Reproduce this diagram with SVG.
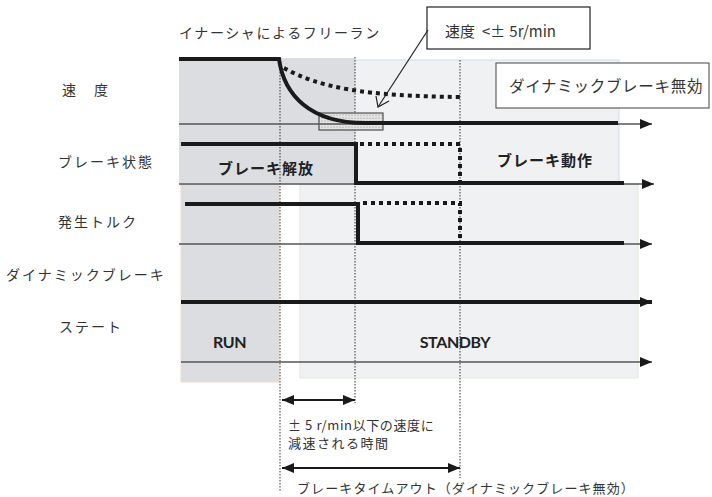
<svg xmlns="http://www.w3.org/2000/svg" width="712" height="497" viewBox="0 0 712 497">
<style>
.t{font-family:"Noto Sans CJK JP","Noto Sans",sans-serif;fill:#333;}
.lbl{font-size:14px;letter-spacing:2px;}
.b{font-weight:bold;fill:#222;}
.en{font-family:Lato,"Noto Sans",sans-serif;font-weight:bold;fill:#222;}
.thick{stroke:#1a1a1a;stroke-width:4;fill:none;}
.thin{stroke:#555;stroke-width:1.5;fill:none;}
.dot{stroke:#1a1a1a;stroke-width:4;fill:none;stroke-dasharray:4 4;}
.guide{stroke:#333;stroke-width:1;fill:none;stroke-dasharray:1.5 1.5;}
</style>
<defs>
<marker id="ah" markerWidth="12" markerHeight="10" refX="12" refY="5" orient="auto" markerUnits="userSpaceOnUse">
<path d="M0,0 L12,5 L0,10 Z" fill="#1a1a1a"/>
</marker>
<marker id="ahs" markerWidth="12" markerHeight="10" refX="0" refY="5" orient="auto" markerUnits="userSpaceOnUse">
<path d="M12,0 L0,5 L12,10 Z" fill="#1a1a1a"/>
</marker>
<pattern id="dots" width="3" height="3" patternUnits="userSpaceOnUse">
<rect width="3" height="3" fill="#e4e4e4"/>
<circle cx="1" cy="1" r="0.6" fill="#888"/>
</pattern>
</defs>

<g id="backgrounds">
<rect x="280" y="60" width="339" height="123" fill="#f0f1f3" stroke="#cfdcee" stroke-width="1"/>
<rect x="179" y="58" width="176" height="125" fill="#dcdde0"/>
<rect x="300" y="184" width="338" height="194" fill="#f0f1f3" stroke="#e3e9da" stroke-width="1"/>
<rect x="181" y="184" width="98" height="198" fill="#dcdde0" stroke="#f2dccd" stroke-width="1"/>
</g>

<g id="guides">
<line class="guide" x1="280" y1="57" x2="280" y2="492"/>
<line class="guide" x1="355" y1="57" x2="355" y2="403"/>
<line class="guide" x1="460" y1="60" x2="460" y2="478"/>
</g>

<g id="row-labels">
<text class="t lbl" x="62" y="95">速　度</text>
<text class="t lbl" x="58" y="167">ブレーキ状態</text>
<text class="t lbl" x="58" y="227">発生トルク</text>
<text class="t lbl" x="6" y="280">ダイナミックブレーキ</text>
<text class="t lbl" x="59" y="332">ステート</text>
<text class="t" x="179" y="38" font-size="14" letter-spacing="1.6">イナーシャによるフリーラン</text>
</g>

<g id="speed">
<rect x="319" y="113" width="64" height="17" fill="url(#dots)" stroke="#333" stroke-width="1"/>
<line class="thin" x1="179" y1="124" x2="652" y2="124" marker-end="url(#ah)"/>
<path class="dot" d="M284,68 C320,88 365,96 460,97"/>
<path class="thick" d="M179,59 H279 C284,95 310,123 365,123 H618"/>
</g>

<g id="brake">
<line class="thin" x1="179" y1="184" x2="654" y2="184" marker-end="url(#ah)"/>
<path class="dot" d="M360,144 H460 V182"/>
<path class="thick" d="M181,144 H356 V183 H624"/>
<text class="t b" x="218" y="174" font-size="15" letter-spacing="1">ブレーキ解放</text>
<text class="t b" x="497" y="166" font-size="15" letter-spacing="1">ブレーキ動作</text>
</g>

<g id="torque">
<line class="thin" x1="179" y1="244" x2="652" y2="244" marker-end="url(#ah)"/>
<path class="dot" d="M363,203 H460 V242"/>
<path class="thick" d="M185,204 H358 V243 H624"/>
</g>

<g id="dynamic-brake">
<line class="thick" x1="181" y1="302" x2="652" y2="302" marker-end="url(#ah)"/>
</g>

<g id="state">
<line class="thin" x1="181" y1="362" x2="652" y2="362" marker-end="url(#ah)"/>
<text class="en" x="229.5" y="348" font-size="16" text-anchor="middle" letter-spacing="-0.4">RUN</text>
<text class="en" x="455" y="348" font-size="16" text-anchor="middle" letter-spacing="-0.4">STANDBY</text>
</g>

<g id="callout-speed">
<rect x="427" y="7" width="163" height="42" fill="#fff" stroke="#222" stroke-width="1.2"/>
<text class="t" x="445" y="37" font-size="15">速度<tspan dx="7">&lt;±</tspan><tspan dx="4">5r/min</tspan></text>
</g>

<g id="callout-db">
<rect x="496" y="63" width="213" height="45" fill="#fff" stroke="#444" stroke-width="1"/>
<text class="t" x="509" y="92" font-size="15.5" letter-spacing="0.7">ダイナミックブレーキ無効</text>
</g>

<g id="connectors">
<line x1="428" y1="30" x2="378" y2="107" stroke="#222" stroke-width="1.2"/>
<path d="M376,96 L378,107 L389,101" fill="none" stroke="#222" stroke-width="1.2"/>
<line x1="282" y1="400" x2="355" y2="400" stroke="#1a1a1a" stroke-width="2" marker-start="url(#ahs)" marker-end="url(#ah)"/>
<line x1="282" y1="468" x2="460" y2="468" stroke="#1a1a1a" stroke-width="2" marker-start="url(#ahs)" marker-end="url(#ah)"/>
</g>

<g id="dimension-labels">
<text class="t" x="288" y="430" font-size="13" letter-spacing="0.6">± 5 r/min以下の速度に</text>
<text class="t" x="288" y="448" font-size="13" letter-spacing="1.5">減速される時間</text>
<text class="t" x="297" y="493" font-size="13" letter-spacing="1.1">ブレーキタイムアウト（ダイナミックブレーキ無効）</text>
</g>
</svg>
